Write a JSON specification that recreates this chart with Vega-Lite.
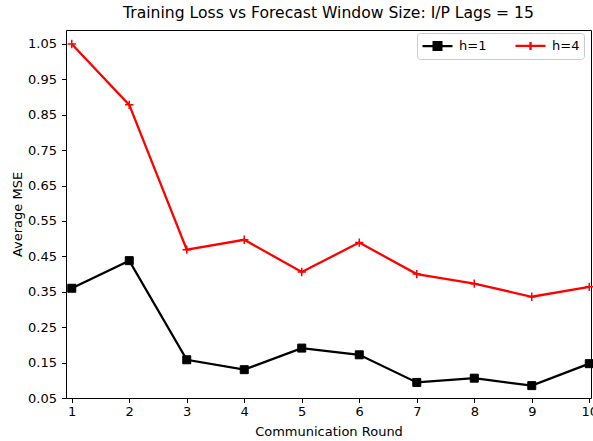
{
  "$schema": "https://vega.github.io/schema/vega-lite/v6.json",
  "width": 525,
  "height": 368,
  "autosize": {"type": "none"},
  "padding": {"left": 66, "top": 30, "right": 2, "bottom": 43},
  "background": "white",
  "title": {"text": "Training Loss vs Forecast Window Size: I/P Lags = 15", "font": "DejaVu Sans", "fontSize": 15.6, "fontWeight": "normal", "color": "black", "offset": 8},
  "config": {
    "font": "DejaVu Sans",
    "view": {"stroke": "black", "strokeWidth": 1},
    "axis": {"labelFont": "DejaVu Sans", "titleFont": "DejaVu Sans", "labelFontSize": 13, "titleFontSize": 13, "titleFontWeight": "normal", "labelColor": "black", "titleColor": "black", "tickColor": "black", "domain": false, "grid": false, "tickSize": 4.5, "labelFlush": false}
  },
  "data": {"values": [
    {"round": 1, "series": "h=1", "mse": 0.360},
    {"round": 2, "series": "h=1", "mse": 0.438},
    {"round": 3, "series": "h=1", "mse": 0.158},
    {"round": 4, "series": "h=1", "mse": 0.130},
    {"round": 5, "series": "h=1", "mse": 0.191},
    {"round": 6, "series": "h=1", "mse": 0.172},
    {"round": 7, "series": "h=1", "mse": 0.094},
    {"round": 8, "series": "h=1", "mse": 0.106},
    {"round": 9, "series": "h=1", "mse": 0.085},
    {"round": 10, "series": "h=1", "mse": 0.147},
    {"round": 1, "series": "h=4", "mse": 1.050},
    {"round": 2, "series": "h=4", "mse": 0.878},
    {"round": 3, "series": "h=4", "mse": 0.469},
    {"round": 4, "series": "h=4", "mse": 0.497},
    {"round": 5, "series": "h=4", "mse": 0.406},
    {"round": 6, "series": "h=4", "mse": 0.489},
    {"round": 7, "series": "h=4", "mse": 0.400},
    {"round": 8, "series": "h=4", "mse": 0.373},
    {"round": 9, "series": "h=4", "mse": 0.336},
    {"round": 10, "series": "h=4", "mse": 0.364}
  ]},
  "encoding": {
    "x": {"field": "round", "type": "quantitative", "scale": {"domain": [0.9, 10.03], "nice": false, "zero": false}, "axis": {"values": [1,2,3,4,5,6,7,8,9,10], "format": "d", "title": "Communication Round", "labelPadding": 3, "titlePadding": 7}},
    "y": {"field": "mse", "type": "quantitative", "scale": {"domain": [0.05, 1.0895], "nice": false, "zero": false}, "axis": {"values": [0.05,0.15,0.25,0.35,0.45,0.55,0.65,0.75,0.85,0.95,1.05], "format": ".2f", "title": "Average MSE", "labelPadding": 5, "titlePadding": 3}}
  },
  "layer": [
    {
      "mark": {"type": "line", "strokeWidth": 2.3},
      "encoding": {
        "color": {"field": "series", "type": "nominal", "scale": {"domain": ["h=1", "h=4"], "range": ["black", "red"]},
          "legend": {"title": null, "orient": "none", "legendX": 351, "legendY": 3, "direction": "horizontal", "columns": 2, "padding": 4, "fillColor": "white", "strokeColor": "#cccccc", "cornerRadius": 3, "labelFont": "DejaVu Sans", "labelFontSize": 13, "labelColor": "black", "symbolSize": 196, "symbolStrokeWidth": 2.3, "symbolOffset": 8, "labelOffset": 13, "columnPadding": 23,
            "encode": {"symbols": {"update": {
              "shape": {"signal": "datum.value === 'h=1' ? 'M-2.14,0H2.14M-0.55,-0.55H0.55V0.55H-0.55Z' : 'M-2.14,0H2.14M0,-0.57V0.57'"},
              "fill": {"signal": "datum.value === 'h=1' ? 'black' : 'transparent'"}
            }}}
          }
        }
      }
    },
    {
      "transform": [{"filter": "datum.series === 'h=1'"}],
      "mark": {"type": "point", "shape": "square", "filled": true, "color": "black", "size": 64, "stroke": "black", "strokeWidth": 1, "opacity": 1}
    },
    {
      "transform": [{"filter": "datum.series === 'h=4'"}],
      "mark": {"type": "point", "shape": "M-1,0H1M0,-1V1", "filled": false, "color": "red", "size": 70, "strokeWidth": 1.5, "opacity": 1}
    }
  ]
}
